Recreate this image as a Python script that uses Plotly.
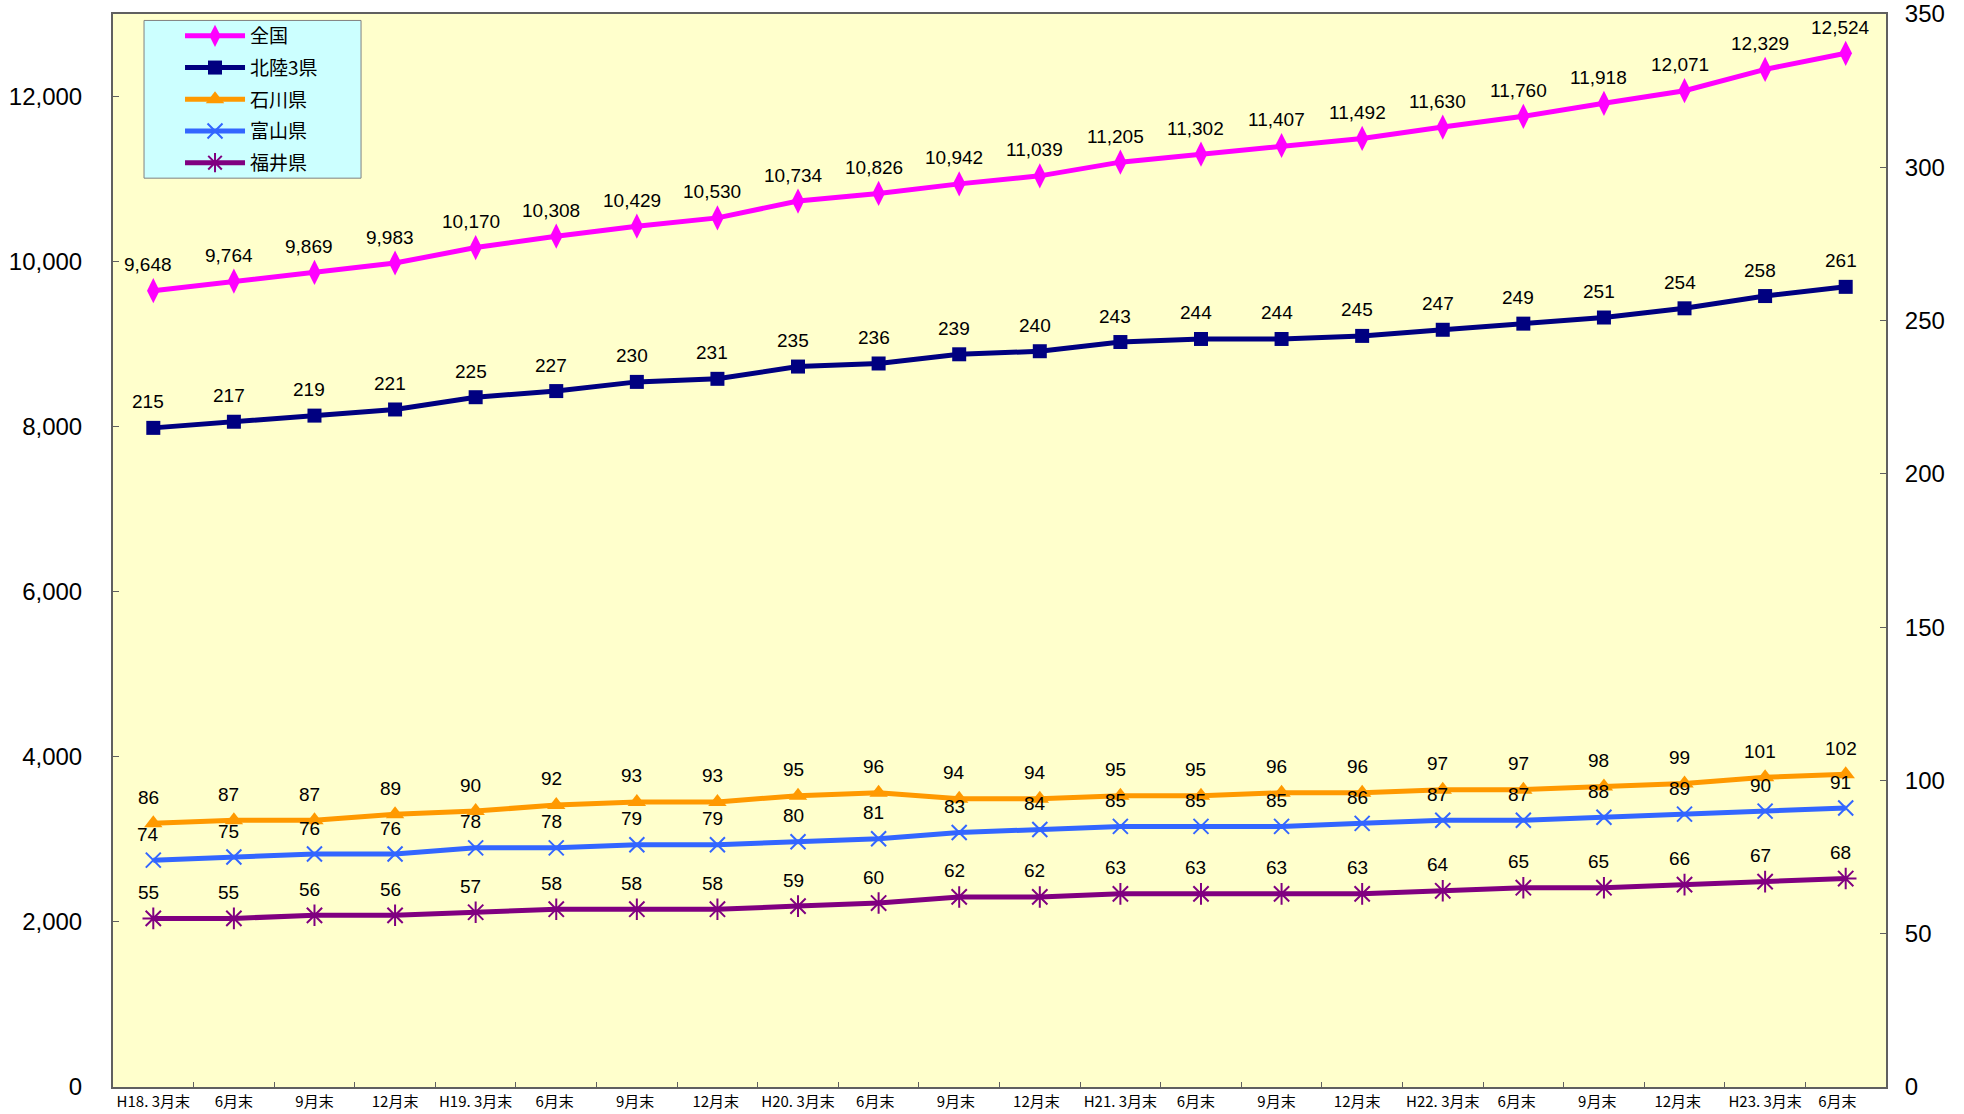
import plotly.graph_objects as go

categories = ["H18. 3月末", "6月末", "9月末", "12月末",
              "H19. 3月末", "6月末 ", "9月末 ", "12月末 ",
              "H20. 3月末", "6月末  ", "9月末  ", "12月末  ",
              "H21. 3月末", "6月末   ", "9月末   ", "12月末   ",
              "H22. 3月末", "6月末    ", "9月末    ", "12月末    ",
              "H23. 3月末", "6月末     "]

zenkoku = [9648, 9764, 9869, 9983, 10170, 10308, 10429, 10530, 10734, 10826, 10942,
           11039, 11205, 11302, 11407, 11492, 11630, 11760, 11918, 12071, 12329, 12524]
hokuriku = [215, 217, 219, 221, 225, 227, 230, 231, 235, 236, 239,
            240, 243, 244, 244, 245, 247, 249, 251, 254, 258, 261]
ishikawa = [86, 87, 87, 89, 90, 92, 93, 93, 95, 96, 94,
            94, 95, 95, 96, 96, 97, 97, 98, 99, 101, 102]
toyama = [74, 75, 76, 76, 78, 78, 79, 79, 80, 81, 83,
          84, 85, 85, 85, 86, 87, 87, 88, 89, 90, 91]
fukui = [55, 55, 56, 56, 57, 58, 58, 58, 59, 60, 62,
         62, 63, 63, 63, 63, 64, 65, 65, 66, 67, 68]

left_ticks = [0, 2000, 4000, 6000, 8000, 10000, 12000]
right_ticks = [0, 50, 100, 150, 200, 250, 300, 350]

series = [
    ("全国", zenkoku, "y", "#FF00FF", dict(symbol="diamond-tall", size=18)),
    ("北陸3県", hokuriku, "y2", "#000080", dict(symbol="square", size=14)),
    ("石川県", ishikawa, "y2", "#FF9900", dict(symbol="triangle-up", size=16)),
    ("富山県", toyama, "y2", "#3366FF", dict(symbol="x-thin-open", size=15, line=dict(width=2, color="#3366FF"))),
    ("福井県", fukui, "y2", "#800080", dict(symbol="asterisk-open", size=18, line=dict(width=2, color="#800080"))),
]

LABEL_FONT = dict(family="Liberation Sans, Arial, sans-serif", size=19, color="#000000")

fig = go.Figure()
annotations = []
for name, vals, yax, color, marker in series:
    m = dict(color=color)
    m.update(marker)
    fig.add_trace(go.Scatter(
        x=categories, y=vals, name=name, mode="lines+markers", yaxis=yax,
        legendgroup=name,
        line=dict(color=color, width=5), marker=m,
    ))
    for c, v in zip(categories, vals):
        annotations.append(dict(
            x=c, y=v, xref="x", yref=yax, text=f"{v:,}", showarrow=False,
            xshift=-5, yshift=26, font=LABEL_FONT,
        ))

tick_font = dict(family="Liberation Sans, Arial, sans-serif", size=24, color="#000000")

fig.update_layout(
    width=1964, height=1114,
    margin=dict(l=113, r=78, t=14, b=27),
    paper_bgcolor="#FFFFFF",
    plot_bgcolor="#FFFFCC",
    showlegend=True,
    legend=dict(
        x=0.0378, y=0.9972, xanchor="left", yanchor="top",
        bgcolor="rgba(0,0,0,0)", borderwidth=0,
        font=dict(family="Noto Sans CJK JP", size=19, color="#000000"),
        tracegroupgap=4, itemwidth=60,
    ),
    shapes=[dict(
        type="rect", xref="paper", yref="paper",
        x0=0.0175, x1=0.1399, y0=0.847, y1=0.994,
        fillcolor="#CCFFFF", line=dict(color="#808080", width=1), layer="above",
    )],
    xaxis=dict(
        type="category", range=[-0.5, 21.5], automargin=False,
        showline=True, linecolor="#606060", linewidth=2, mirror=True,
        ticks="inside", ticklen=5, tickcolor="#606060", tickson="boundaries",
        showgrid=False, zeroline=False,
        tickfont=dict(family="Noto Sans CJK JP", size=15, color="#000000"),
        tickangle=0,
    ),
    yaxis=dict(
        range=[0, 13000], tickvals=left_ticks, tickformat=",", automargin=False,
        showline=True, linecolor="#606060", linewidth=2,
        ticks="inside", ticklen=6, tickcolor="#606060",
        showgrid=False, zeroline=False, tickfont=tick_font,
        ticklabelstandoff=24, ticklabeloverflow="allow",
    ),
    yaxis2=dict(
        range=[0, 350], tickvals=right_ticks, overlaying="y", side="right",
        automargin=False,
        showline=True, linecolor="#606060", linewidth=2,
        ticks="inside", ticklen=6, tickcolor="#606060",
        showgrid=False, zeroline=False, tickfont=tick_font,
        ticklabelstandoff=12, ticklabeloverflow="allow",
    ),
    annotations=annotations,
)

fig.write_html("out.html", config={"displayModeBar": False},
               post_script="document.body.style.margin='0px';")
